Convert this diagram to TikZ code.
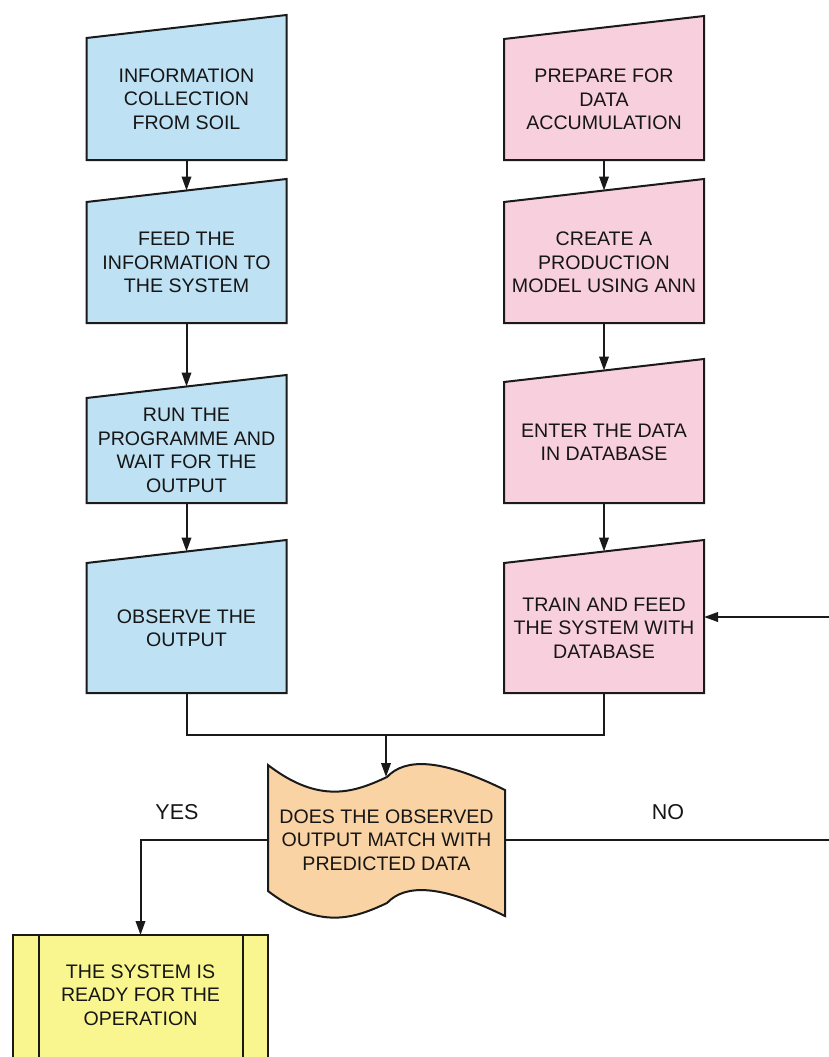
\documentclass[tikz,border=0pt]{standalone}
\usepackage{fontspec}
\setmainfont{Liberation Sans}
\usetikzlibrary{arrows.meta,backgrounds,calc}
\definecolor{bluebox}{HTML}{BEE1F4}
\definecolor{pinkbox}{HTML}{F8CFDC}
\definecolor{peachbox}{HTML}{FAD3A5}
\definecolor{yellowbox}{HTML}{FAF68F}
\definecolor{txt}{HTML}{161616}
\definecolor{ln}{HTML}{1A1A1A}
\tikzset{
  basetext/.style={font=\fontsize{19.6}{23.5}\selectfont, align=center, inner sep=0pt, outer sep=0pt, text=txt},
  maninbox/.style={basetext, minimum width=200pt, minimum height=#1},
  labtext/.style={font=\fontsize{21.5}{24}\selectfont, inner sep=0pt, text=txt},
  shapeline/.style={draw=ln, line width=2pt, line join=miter},
  conline/.style={draw=ln, line width=2pt},
  conarrow/.style={conline, -{Triangle[length=14pt,width=9.5pt]}}
}
\begin{document}
\begin{tikzpicture}[x=1pt,y=-1pt]
\useasboundingbox (0,0) rectangle (829,1057);
\clip (0,0) rectangle (829,1057);

% process boxes
\node[maninbox=122pt] (L1) at (186.5,99) {INFORMATION\\COLLECTION\\FROM SOIL};
\node[maninbox=121pt] (L2) at (186.5,262.5) {FEED THE\\INFORMATION TO\\THE SYSTEM};
\node[maninbox=105pt] (L3) at (186.5,450.5) {RUN THE\\PROGRAMME AND\\WAIT FOR THE\\OUTPUT};
\node[maninbox=130pt] (L4) at (186.5,628) {OBSERVE THE\\OUTPUT};
\node[maninbox=121pt] (R1) at (604,99.5) {PREPARE FOR\\DATA\\ACCUMULATION};
\node[maninbox=121pt] (R2) at (604,262.5) {CREATE A\\PRODUCTION\\MODEL USING ANN};
\node[maninbox=121pt] (R3) at (604,442.5) {ENTER THE DATA\\IN DATABASE};
\node[maninbox=130pt] (R4) at (604,628) {TRAIN AND FEED\\THE SYSTEM WITH\\DATABASE};

% decision (document shape)
\node[basetext, minimum width=237pt, minimum height=100pt] (dec) at (386.5,840) {DOES THE OBSERVED\\OUTPUT MATCH WITH\\PREDICTED DATA};
\coordinate (doctop) at (386,777);

% final box
\node[inner sep=0pt, outer sep=0pt, minimum width=255pt, minimum height=140pt] (ready) at (140.5,1005) {};
\node[basetext] (readytxt) at (140.5,995) {THE SYSTEM IS\\READY FOR THE\\OPERATION};

% labels
\node[labtext] (yes) at (177,812) {YES};
\node[labtext] (no) at (668,812) {NO};

\coordinate (merge) at (386,735);
\coordinate (loop) at (845,840);

\begin{scope}[on background layer]
  \fill[white] (0,0) rectangle (829,1057);
  \foreach \n/\c in {L1/bluebox,L2/bluebox,L3/bluebox,L4/bluebox,R1/pinkbox,R2/pinkbox,R3/pinkbox,R4/pinkbox}
    \draw[shapeline, fill=\c] (\n.south west) -- (\n.north west) -- ([yshift=23pt]\n.north east) -- (\n.south east) -- cycle;
  \draw[shapeline, fill=peachbox] (268,765) .. controls (320,805) and (355,792) .. (387,777)
     .. controls (405,758) and (440,758) .. (505,790) -- (505,916)
     .. controls (440,884) and (405,884) .. (387,903)
     .. controls (355,918) and (320,931) .. (268,891) -- cycle;
  \draw[shapeline, fill=yellowbox] (ready.north west) rectangle (ready.south east);
  \draw[shapeline] ([xshift=26pt]ready.north west) -- ([xshift=26pt]ready.south west);
  \draw[shapeline] ([xshift=-25pt]ready.north east) -- ([xshift=-25pt]ready.south east);
\end{scope}

% connectors
\draw[conarrow] (L1.south) -- ([yshift=11.5pt]L2.north);
\draw[conarrow] (L2.south) -- ([yshift=11.5pt]L3.north);
\draw[conarrow] (L3.south) -- ([yshift=11.5pt]L4.north);
\draw[conarrow] (R1.south) -- ([yshift=11.5pt]R2.north);
\draw[conarrow] (R2.south) -- ([yshift=11.5pt]R3.north);
\draw[conarrow] (R3.south) -- ([yshift=11.5pt]R4.north);
\draw[conline] (L4.south) |- (merge) -| (R4.south);
\draw[conarrow] (merge) -- (doctop);
\draw[conarrow] (dec.west) -| (ready.north);
\draw[conarrow] (dec.east) -- (loop) |- ([yshift=11pt]R4.east);
\end{tikzpicture}
\end{document}
